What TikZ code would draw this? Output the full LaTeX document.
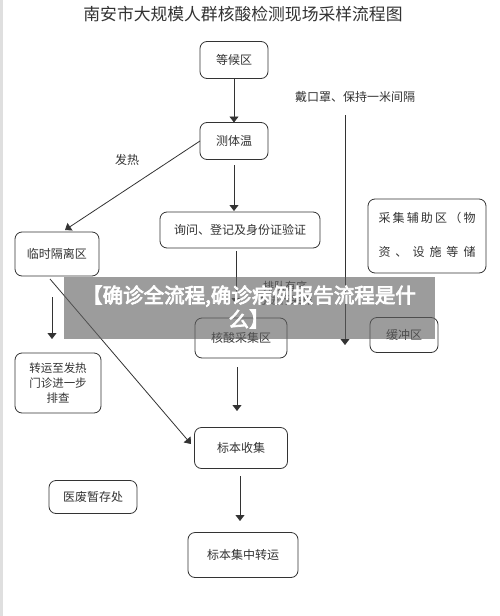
\documentclass[tikz,border=0pt]{standalone}
\usepackage{fontspec}
\setmainfont{Noto Sans CJK SC}
\newfontfamily\cjkbold[FakeBold=3.5]{Noto Sans CJK SC}
\usetikzlibrary{arrows.meta}
\definecolor{ink}{HTML}{333333}
\tikzset{
  box/.style={draw=ink, line width=0.8pt, rounded corners=7pt, text=ink, font=\fontsize{12}{14}\selectfont, inner sep=0pt, align=center},
  conn/.style={draw=ink, line width=0.8pt, -{Triangle[width=9pt,length=6pt]}},
  lbl/.style={text=ink, font=\fontsize{12}{14}\selectfont, inner sep=0pt},
}
\begin{document}
\begin{tikzpicture}[x=1pt,y=-1pt]
\useasboundingbox (0,0) rectangle (500,616);
\fill[white] (0,0) rectangle (500,616);
\fill[gray!25] (0,0) rectangle (3,616);
% title
\node[lbl, font=\fontsize{16.8}{18}\selectfont] (title) at (243,14) {南安市大规模人群核酸检测现场采样流程图};
% boxes
\node[box, minimum width=68pt, minimum height=37pt] (wait) at (234,60) {等候区};
\node[box, minimum width=68pt, minimum height=37pt] (temp) at (234,141) {测体温};
\node[box, minimum width=160pt, minimum height=36pt] (reg) at (240,230) {询问、登记及身份证验证};
\node[box, minimum width=84pt, minimum height=44pt] (iso) at (57,254) {临时隔离区};
\node[box, minimum width=118pt, minimum height=74pt] (aux) at (427,236) {};
\node[lbl] (aux1) at (427,218) {\makebox[97pt][s]{采\hfill 集\hfill 辅\hfill 助\hfill 区\hfill （\hfill 物}};
\node[lbl] (aux2) at (427,252) {\makebox[97pt][s]{资\hfill 、\hfill 设\hfill 施\hfill 等\hfill 储}};
\node[box, minimum width=92pt, minimum height=40pt] (nuc) at (241,338) {核酸采集区};
\node[box, minimum width=68pt, minimum height=35pt] (buf) at (404,335) {缓冲区};
\node[box, minimum width=86pt, minimum height=60pt, font=\fontsize{11.5}{15}\selectfont] (fev) at (58,383) {转运至发热\\门诊进一步\\排查};
\node[box, minimum width=93pt, minimum height=41pt] (col) at (241,448) {标本收集};
\node[box, minimum width=88pt, minimum height=33pt] (med) at (93,497) {医废暂存处};
\node[box, minimum width=110pt, minimum height=45pt] (trans) at (243,555) {标本集中转运};
% labels
\node[lbl] (mask) at (355,97) {戴口罩、保持一米间隔};
\node[lbl] (hot) at (127,160) {发热};
\node[lbl, font=\fontsize{11}{14}\selectfont, align=center] (queue) at (285,293) {排队有序\\办进行采样};
% connector coordinates
\coordinate (waitS) at (234,78.5);
\coordinate (tempN) at (234,122.5);
\coordinate (tempS) at (234,165);
\coordinate (regN) at (234,211);
\coordinate (regS) at (236,251);
\coordinate (nucN) at (236,304);
\coordinate (nucS) at (237,367);
\coordinate (colN) at (237,411);
\coordinate (colS) at (240,476);
\coordinate (transN) at (240,521);
\coordinate (tempW) at (200,141);
\coordinate (hotEnd) at (65,230);
\coordinate (isoB) at (50,279);
\coordinate (diagEnd) at (191,444);
\coordinate (isoA) at (52,297);
\coordinate (isoC) at (52,339);
\coordinate (maskTop) at (345,115);
\coordinate (maskEnd) at (345,345);
% connectors
\draw[conn] (waitS) -- (tempN);
\draw[conn] (tempS) -- (regN);
\draw[conn] (tempW) -- (hotEnd);
\draw[conn] (regS) -- (nucN);
\draw[conn] (nucS) -- (colN);
\draw[conn] (colS) -- (transN);
\draw[conn] (maskTop) -- (maskEnd);
\draw[conn] (isoA) -- (isoC);
\draw[conn] (isoB) -- (diagEnd);
% banner
\fill[gray!75!black, opacity=0.62] (64,277) rectangle (435,339);
\node[text=white, font=\cjkbold\fontsize{20.5}{24}\selectfont, align=center, inner sep=0pt] (banner) at (249,307) {【确诊全流程,确诊病例报告流程是什\\么】};
\end{tikzpicture}
\end{document}
